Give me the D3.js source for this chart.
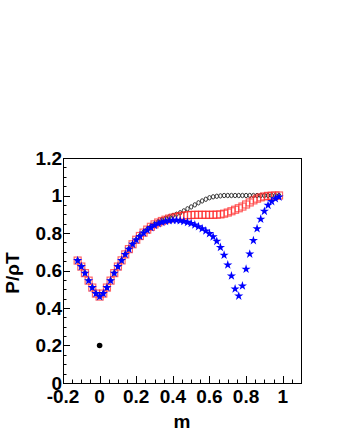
<!DOCTYPE html>
<html>
<head>
<meta charset="utf-8">
<script src="https://cdn.jsdelivr.net/npm/d3@7"></script>
<style>
  body { margin: 0; background: #fff; }
  text { font-family: "Liberation Sans", Arial, sans-serif; font-weight: bold; }
</style>
</head>
<body>
<div id="chart"></div>
<script>
// m values, step 0.02
const mValues = [-0.12, -0.10, -0.08, -0.06, -0.04, -0.02, 0.00, 0.02, 0.04, 0.06, 0.08, 0.10,
    0.12, 0.14, 0.16, 0.18, 0.20, 0.22, 0.24, 0.26, 0.28, 0.30, 0.32, 0.34, 0.36, 0.38,
    0.40, 0.42, 0.44, 0.46, 0.48, 0.50, 0.52, 0.54, 0.56, 0.58, 0.60, 0.62, 0.64, 0.66,
    0.68, 0.70, 0.72, 0.74, 0.76, 0.78, 0.80, 0.82, 0.84, 0.86, 0.88, 0.90, 0.92, 0.94,
    0.96, 0.98];

// blue stars
const starValues = [0.653, 0.621, 0.586, 0.546, 0.509, 0.477, 0.461, 0.477, 0.509, 0.546, 0.586, 0.621,
    0.654, 0.686, 0.714, 0.740, 0.763, 0.782, 0.800, 0.815, 0.829, 0.841, 0.850, 0.857, 0.862, 0.866,
    0.868, 0.868, 0.866, 0.862, 0.857, 0.851, 0.843, 0.834, 0.823, 0.811, 0.797, 0.780, 0.756, 0.723,
    0.682, 0.630, 0.571, 0.502, 0.464, 0.518, 0.607, 0.688, 0.760, 0.823, 0.874, 0.916, 0.948, 0.968,
    0.983, 0.992];

// red open squares
const squareValues = [0.653, 0.621, 0.586, 0.546, 0.509, 0.477, 0.461, 0.477, 0.509, 0.546, 0.586, 0.621,
    0.654, 0.686, 0.714, 0.740, 0.764, 0.784, 0.802, 0.818, 0.833, 0.846, 0.856, 0.864, 0.871, 0.877,
    0.882, 0.886, 0.890, 0.893, 0.895, 0.896, 0.897, 0.897, 0.897, 0.897, 0.897, 0.897, 0.898, 0.899,
    0.903, 0.909, 0.916, 0.924, 0.932, 0.941, 0.952, 0.963, 0.974, 0.983, 0.990, 0.995, 0.998, 0.999,
    1.000, 1.000];

// black open circles
const circleValues = [0.653, 0.621, 0.586, 0.546, 0.509, 0.477, 0.461, 0.477, 0.509, 0.546, 0.586, 0.621,
    0.654, 0.686, 0.714, 0.740, 0.764, 0.785, 0.804, 0.820, 0.835, 0.848, 0.860, 0.870, 0.878, 0.886,
    0.893, 0.900, 0.908, 0.918, 0.929, 0.939, 0.950, 0.961, 0.971, 0.980, 0.988, 0.993, 0.996, 0.998,
    1.000, 1.000, 1.000, 1.000, 1.000, 1.000, 1.000, 1.000, 1.000, 1.000, 1.000, 1.000, 1.000, 1.000,
    1.000, 1.000];

// single filled point
const dotPoint = [0.0, 0.2];

const xTicks = [-0.2, 0, 0.2, 0.4, 0.6, 0.8, 1];
const yTicks = [0, 0.2, 0.4, 0.6, 0.8, 1, 1.2];

const width = 343, height = 444;
const mLeft = 63, mRight = 301, mTop = 158, mBottom = 383;

const x = d3.scaleLinear().domain([-0.2, 1.1]).range([mLeft, mRight]);
const y = d3.scaleLinear().domain([0, 1.2]).range([mBottom, mTop]);

const svg = d3.select("#chart").append("svg")
    .attr("width", width)
    .attr("height", height);

svg.append("rect").attr("width", width).attr("height", height).attr("fill", "#fff");

// frame
svg.append("rect")
    .attr("x", mLeft + 0.5).attr("y", mTop + 0.5)
    .attr("width", mRight - mLeft).attr("height", mBottom - mTop)
    .attr("fill", "none").attr("stroke", "#000").attr("stroke-width", 1);

// minor ticks (4 subdivisions)
const xMinor = d3.range(0, 27).map(i => -0.2 + i * 0.05);
const yMinor = d3.range(0, 25).map(i => i * 0.05);

const gTicks = svg.append("g").attr("stroke", "#000").attr("stroke-width", 1);
gTicks.selectAll(".xm").data(xMinor).join("line")
    .attr("x1", d => Math.round(x(d)) + 0.5).attr("x2", d => Math.round(x(d)) + 0.5)
    .attr("y1", mBottom).attr("y2", (d, i) => mBottom - (i % 4 == 0 ? 7 : 3.5));
gTicks.selectAll(".ym").data(yMinor).join("line")
    .attr("y1", d => Math.round(y(d)) + 0.5).attr("y2", d => Math.round(y(d)) + 0.5)
    .attr("x1", mLeft).attr("x2", (d, i) => mLeft + (i % 4 == 0 ? 7 : 3.5));

// tick labels (plain hyphen for negatives, as in the original)
svg.append("g").selectAll("text").data(xTicks).join("text")
    .attr("x", d => x(d)).attr("y", 403)
    .attr("text-anchor", "middle")
    .attr("font-size", 19)
    .text(d => String(d));

svg.append("g").selectAll("text").data(yTicks).join("text")
    .attr("x", 62).attr("y", d => y(d)).attr("dy", "0.36em")
    .attr("text-anchor", "end")
    .attr("font-size", 19)
    .text(d => String(d));

// axis titles
svg.append("text")
    .attr("x", (mLeft + mRight) / 2).attr("y", 428)
    .attr("text-anchor", "middle").attr("font-size", 19)
    .text("m");

svg.append("text")
    .attr("transform", `translate(19,${273}) rotate(-90)`)
    .attr("text-anchor", "middle").attr("font-size", 19)
    .text("P/ρT");

// data
const plot = svg.append("g");

plot.selectAll(".c").data(mValues).join("ellipse")
    .attr("cx", d => x(d))
    .attr("cy", (d, i) => y(circleValues[i]))
    .attr("rx", 1.7).attr("ry", 2.2)
    .attr("fill", "none").attr("stroke", "#222").attr("stroke-width", 0.9);

plot.selectAll(".s").data(mValues).join("rect")
    .attr("x", d => x(d) - 3.5)
    .attr("y", (d, i) => y(squareValues[i]) - 3.5)
    .attr("width", 7).attr("height", 7)
    .attr("fill", "none").attr("stroke", "#f22").attr("stroke-opacity", 0.7).attr("stroke-width", 1.2);

const star = d3.symbol().type(d3.symbolStar).size(26);
plot.selectAll(".st").data(mValues).join("path")
    .attr("transform", (d, i) => `translate(${x(d)},${y(starValues[i])})`)
    .attr("d", star)
    .attr("fill", "#0000ff");

plot.append("circle")
    .attr("cx", x(dotPoint[0])).attr("cy", y(dotPoint[1]))
    .attr("r", 2.8).attr("fill", "#000");
</script>
</body>
</html>
